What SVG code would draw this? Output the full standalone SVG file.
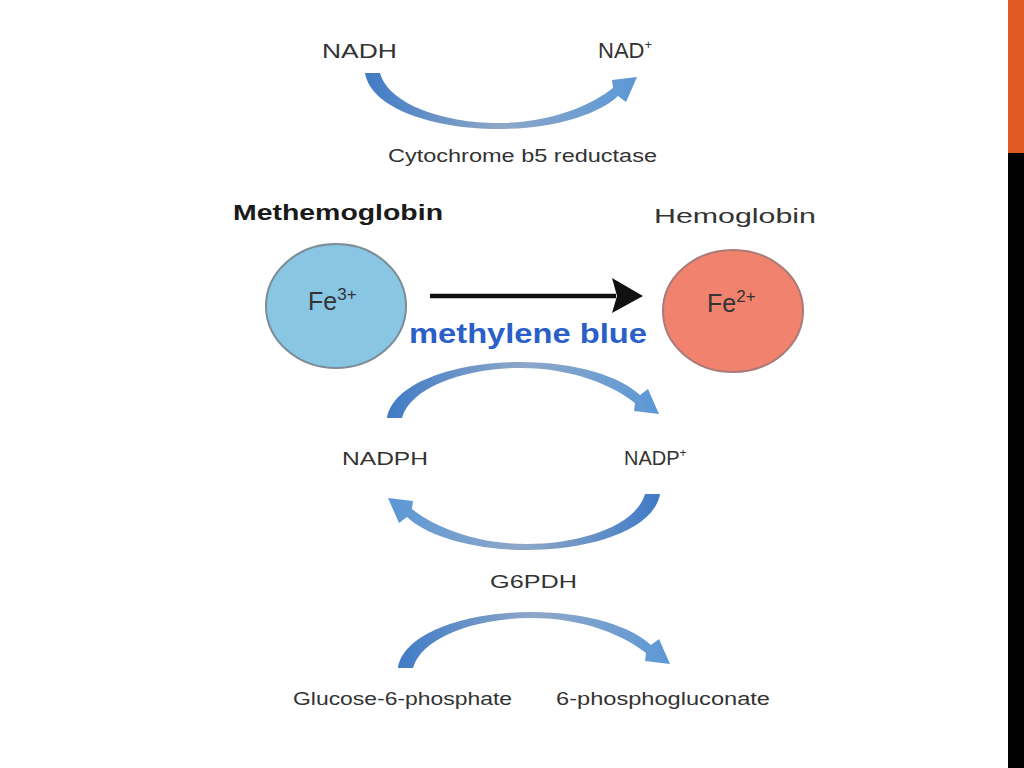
<svg xmlns="http://www.w3.org/2000/svg" xmlns:xlink="http://www.w3.org/1999/xlink" width="1024" height="768" viewBox="0 0 1024 768">
<style>
.t{font-family:"Liberation Sans",Arial,sans-serif;fill:#333;}
.b{font-weight:bold;fill:#1a1a1a;}
.mb{font-family:"Liberation Sans",Arial,sans-serif;font-weight:bold;fill:#2a5fc8;}
.arc{fill:url(#g);}
</style>
<defs>
<linearGradient id="g" x1="0" y1="0" x2="1" y2="0">
<stop offset="0" stop-color="#3f7bc6"/>
<stop offset="0.5" stop-color="#8ea7c8"/>
<stop offset="1" stop-color="#5b98d6"/>
</linearGradient>
<path id="arcShape" d="M0,56 C6,20 70,0 133,0 C190,0 234,15 253,33 L261,27 L272,52 L247,49 L248,41 C228,25 188,6 133,6 C80,6 24,24 15,56 Z"/>
</defs>
<rect width="1024" height="768" fill="#ffffff"/>
<rect x="1008" y="0" width="16" height="153" fill="#e05a24"/>
<rect x="1008" y="153" width="16" height="615" fill="#000000"/>

<g id="connectors">
<use xlink:href="#arcShape" class="arc" transform="translate(365,129) scale(1,-1)"/>
<use xlink:href="#arcShape" class="arc" transform="translate(387,362)"/>
<use xlink:href="#arcShape" class="arc" transform="translate(660,550) scale(-1,-1)"/>
<use xlink:href="#arcShape" class="arc" transform="translate(398,612)"/>
<line x1="430" y1="296" x2="616" y2="296" stroke="#111" stroke-width="4.5"/>
<polygon points="612,278 643,296 612,313 617,296" fill="#111"/>
</g>

<g id="nadh"><text class="t" x="322" y="58" font-size="21" textLength="75" lengthAdjust="spacingAndGlyphs">NADH</text></g>
<g id="nad"><text class="t" x="598" y="58" font-size="22">NAD<tspan font-size="13" dy="-9">+</tspan></text></g>
<g id="cyt"><text class="t" x="388" y="162" font-size="17.5" textLength="269" lengthAdjust="spacingAndGlyphs">Cytochrome b5 reductase</text></g>

<g id="methemoglobin">
<text class="t b" x="233" y="220" font-size="22" textLength="210" lengthAdjust="spacingAndGlyphs">Methemoglobin</text>
<ellipse cx="336" cy="306" rx="70" ry="62" fill="#88c6e4" stroke="#7c8d98" stroke-width="2"/>
<text class="t" x="308" y="310" font-size="25" fill="#2a3a44">Fe<tspan font-size="17" dy="-10">3+</tspan></text>
</g>

<g id="hemoglobin">
<text class="t" x="654" y="223" font-size="21" textLength="162" lengthAdjust="spacingAndGlyphs">Hemoglobin</text>
<ellipse cx="733" cy="311" rx="70" ry="61" fill="#f0826e" stroke="#a87a78" stroke-width="2"/>
<text class="t" x="707" y="312" font-size="25" fill="#3a2222">Fe<tspan font-size="17" dy="-10">2+</tspan></text>
</g>

<g id="methylene"><text class="mb" x="409" y="343" font-size="27" textLength="238" lengthAdjust="spacingAndGlyphs">methylene blue</text></g>

<g id="nadph"><text class="t" x="342" y="465" font-size="19" textLength="86" lengthAdjust="spacingAndGlyphs">NADPH</text></g>
<g id="nadp"><text class="t" x="624" y="465" font-size="20">NADP<tspan font-size="12" dy="-8">+</tspan></text></g>
<g id="g6pdh"><text class="t" x="490" y="588" font-size="19" textLength="87" lengthAdjust="spacingAndGlyphs">G6PDH</text></g>
<g id="g6p"><text class="t" x="293" y="705" font-size="17.5" textLength="219" lengthAdjust="spacingAndGlyphs">Glucose-6-phosphate</text></g>
<g id="pg"><text class="t" x="556" y="705" font-size="17.5" textLength="214" lengthAdjust="spacingAndGlyphs">6-phosphogluconate</text></g>
</svg>
